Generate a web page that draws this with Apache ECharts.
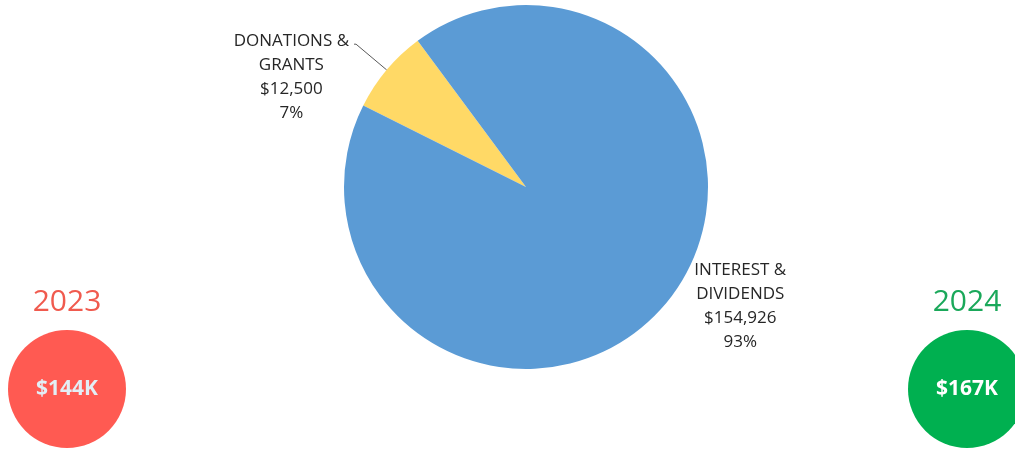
<!DOCTYPE html>
<html>
<head>
<meta charset="utf-8">
<script src="https://cdn.jsdelivr.net/npm/echarts@6/dist/echarts.min.js"></script>
<style>
  html, body { margin: 0; padding: 0; background: #fff; }
  #main { width: 1015px; height: 449px; }
</style>
</head>
<body>
<div id="main"></div>
<script>
// income by source (2024)
const sources = ['DONATIONS &\nGRANTS', 'INTEREST &\nDIVIDENDS'];
const amounts = [12500, 154926];
const sliceColors = ['#ffd966', '#5b9bd5'];

// yearly totals shown in the side bubbles
const years = ['2023', '2024'];
const totals = ['$144K', '$167K'];
const yearColors = ['#ff5a52', '#00b050'];
const yearTextColors = ['#f05a4e', '#1aa85a'];

const chart = echarts.init(document.getElementById('main'), null, { renderer: 'canvas' });

const font = '"Open Sans", sans-serif';

const labelFmt = (p) => {
  const lines = p.name.split('\n');
  lines.push('$' + p.value.toLocaleString('en-US'));
  lines.push(Math.round(p.percent) + '%');
  return lines.map((l) => '{t|' + l + '}').join('\n');
};

const bubbleX = [67, 967];
const graphic = [];
years.forEach((y, i) => {
  graphic.push({
    type: 'text',
    x: bubbleX[i], y: 302,
    style: {
      text: y, fill: yearTextColors[i], font: '30px ' + font,
      align: 'center', verticalAlign: 'middle',
    },
  });
  graphic.push({
    type: 'circle',
    shape: { cx: bubbleX[i], cy: 389, r: 59 },
    style: { fill: yearColors[i] },
  });
  graphic.push({
    type: 'text',
    x: bubbleX[i], y: 389,
    style: {
      text: totals[i], fill: i === 0 ? '#e3eef5' : '#ffffff',
      font: 'bold 21px ' + font,
      align: 'center', verticalAlign: 'middle',
    },
  });
});

chart.setOption({
  animation: false,
  backgroundColor: '#ffffff',
  graphic: graphic,
  series: [{
    type: 'pie',
    center: [526, 187],
    radius: 182,
    startAngle: 153.4,
    clockwise: true,
    avoidLabelOverlap: false,
    data: sources.map((s, i) => ({
      name: s,
      value: amounts[i],
      itemStyle: { color: sliceColors[i] },
      // excel-style: leader line meets the first text line
      label: { padding: i === 0 ? [66, 0, 0, 0] : [5, 0, 0, 0] },
      labelLine: i === 0
        ? { show: true, length: 40, length2: 2, lineStyle: { color: '#595959', width: 1 } }
        : { show: false, length: 0, length2: 24 },
    })),
    label: {
      show: true,
      position: 'outside',
      formatter: labelFmt,
      rich: {
        t: {
          align: 'center',
          fontFamily: font,
          fontSize: 17,
          lineHeight: 24,
          color: '#262626',
        },
      },
    },
    emphasis: { disabled: true },
  }],
});
</script>
</body>
</html>
